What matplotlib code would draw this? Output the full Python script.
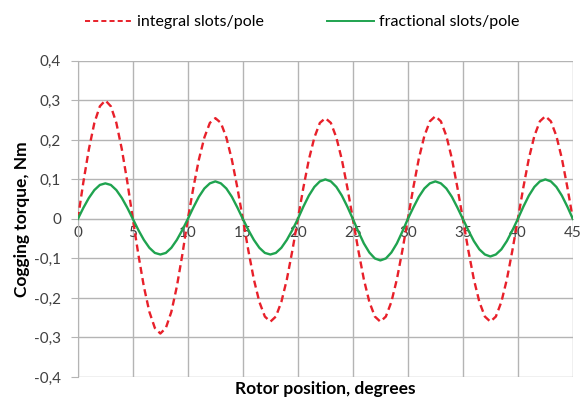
import matplotlib
matplotlib.use("Agg")
import matplotlib.pyplot as plt
from matplotlib.lines import Line2D

# Rotor position, degrees (step 0.5)
position = [i * 0.5 for i in range(91)]

integral = [
    0.000, 0.093, 0.176, 0.243, 0.285, 0.300, 0.285, 0.243, 0.176, 0.093,
    0.000, -0.090, -0.171, -0.235, -0.276, -0.290, -0.276, -0.235, -0.171, -0.090,
    0.000, 0.079, 0.150, 0.206, 0.243, 0.255, 0.243, 0.206, 0.150, 0.079,
    0.000, -0.080, -0.153, -0.210, -0.247, -0.260, -0.247, -0.210, -0.153, -0.080,
    0.000, 0.079, 0.150, 0.206, 0.243, 0.255, 0.243, 0.206, 0.150, 0.079,
    0.000, -0.080, -0.153, -0.210, -0.247, -0.260, -0.247, -0.210, -0.153, -0.080,
    0.000, 0.080, 0.153, 0.210, 0.247, 0.260, 0.247, 0.210, 0.153, 0.080,
    0.000, -0.080, -0.153, -0.210, -0.247, -0.260, -0.247, -0.210, -0.153, -0.080,
    0.000, 0.080, 0.153, 0.210, 0.247, 0.260, 0.247, 0.210, 0.153, 0.080,
    0.000,
]

fractional = [
    0.000, 0.028, 0.053, 0.073, 0.086, 0.090, 0.086, 0.073, 0.053, 0.028,
    0.000, -0.028, -0.053, -0.073, -0.086, -0.090, -0.086, -0.073, -0.053, -0.028,
    0.000, 0.029, 0.056, 0.077, 0.090, 0.095, 0.090, 0.077, 0.056, 0.029,
    0.000, -0.028, -0.053, -0.073, -0.086, -0.090, -0.086, -0.073, -0.053, -0.028,
    0.000, 0.031, 0.059, 0.081, 0.095, 0.100, 0.095, 0.081, 0.059, 0.031,
    0.000, -0.032, -0.062, -0.085, -0.100, -0.105, -0.100, -0.085, -0.062, -0.032,
    0.000, 0.029, 0.056, 0.077, 0.090, 0.095, 0.090, 0.077, 0.056, 0.029,
    0.000, -0.029, -0.056, -0.077, -0.090, -0.095, -0.090, -0.077, -0.056, -0.029,
    0.000, 0.031, 0.059, 0.081, 0.095, 0.100, 0.095, 0.081, 0.059, 0.031,
    0.000,
]

x_ticks = [0, 5, 10, 15, 20, 25, 30, 35, 40, 45]
x_tick_labels = ["0", "5", "10", "15", "20", "25", "30", "35", "40", "45"]
y_ticks = [-0.4, -0.3, -0.2, -0.1, 0.0, 0.1, 0.2, 0.3, 0.4]
y_tick_labels = ["-0,4", "-0,3", "-0,2", "-0,1", "0", "0,1", "0,2", "0,3", "0,4"]

plt.rcParams['font.family'] = ['Lato', 'DejaVu Sans']

fig = plt.figure(figsize=(5.81, 4.03), dpi=100)
ax = fig.add_axes([0.134, 0.0645, 0.852, 0.7845])

grid_c = "#b4b4b4"
red = "#e8202a"
green = "#1fa34f"
ax.plot(position, integral, color=red, lw=1.7, dashes=(3, 1.8), zorder=3)
ax.plot(position, fractional, color=green, lw=1.7, zorder=4)

ax.set_xlim(0, 45)
ax.set_ylim(-0.4, 0.4)
ax.set_xticks(x_ticks)
ax.set_xticklabels(x_tick_labels)
ax.set_yticks(y_ticks)
ax.set_yticklabels(y_tick_labels)
ax.grid(True, color=grid_c, lw=1.0, zorder=0)
ax.set_axisbelow(True)

for s in ["top", "right"]:
    ax.spines[s].set_visible(False)
ax.spines["left"].set_color(grid_c)
ax.spines["bottom"].set_position(("data", 0))
ax.spines["bottom"].set_color(grid_c)
ax.tick_params(axis="x", length=0, pad=5, labelsize=11, labelcolor="#404040")
ax.tick_params(axis="y", length=5, color=grid_c, direction="out", pad=7,
               labelsize=11, labelcolor="#404040")
for lab in ax.get_xticklabels():
    lab.set_zorder(5)

ax.set_ylabel("Cogging torque, Nm", fontsize=12.5, fontweight="bold", labelpad=3)
ax.text(0.5, -0.012, "Rotor position, degrees", transform=ax.transAxes,
        ha="center", va="top", fontsize=12.5, fontweight="bold")

handles = [
    Line2D([], [], color=red, lw=1.4, dashes=(2.6, 1.6)),
    Line2D([], [], color=green, lw=1.4),
]
fig.legend(handles, ["integral slots/pole", "fractional slots/pole"],
           loc="center", bbox_to_anchor=(0.52, 0.945), ncol=2, frameon=False,
           fontsize=11.5, handlelength=3.0, handletextpad=0.3, columnspacing=3.9)

fig.savefig("out.png", dpi=100)
